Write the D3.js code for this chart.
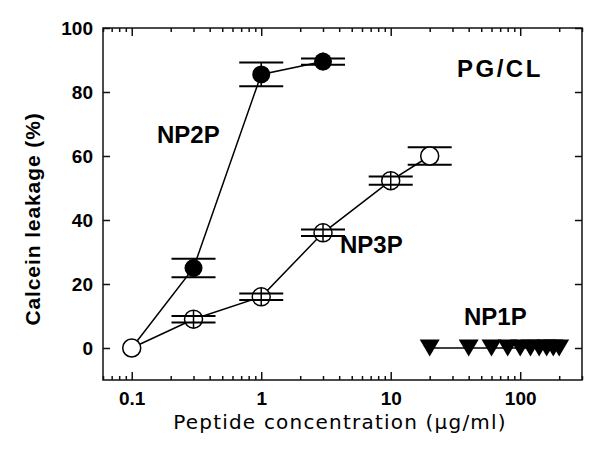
<!DOCTYPE html>
<html>
<head>
<meta charset="utf-8">
<script src="https://cdn.jsdelivr.net/npm/d3@7"></script>
<style>
body { margin: 0; background: #fff; }
</style>
</head>
<body>
<div id="container"></div>
<script>
/* Valeurs */
const xTickValues = [0.1, 1, 10, 100];
const yTickValues = [0, 20, 40, 60, 80, 100];

/* NP2P : cercles pleins */
const concNP2P = [0.1, 0.3, 1, 3];
const leakNP2P = [0, 25, 85.5, 89.5];
const errNP2P = [0, 2.9, 3.7, 1];

/* NP3P : cercles vides */
const concNP3P = [0.1, 0.3, 1, 3, 10, 20];
const leakNP3P = [0, 9, 16, 36, 52.3, 60];
const errNP3P = [0, 1, 1, 1, 1.3, 2.7];

/* NP1P : triangles */
const concNP1P = [20, 40, 60, 80, 100, 120, 140, 160, 180, 200];
const leakNP1P = [0, 0, 0, 0, 0, 0, 0, 0, 0, 0];

const width = 600, height = 460;
const margin = {left: 103, top: 28, right: 18, bottom: 80};
const fontBold = "'Liberation Sans', Arial, sans-serif";
const radius = 9, capHalf = 22;

const svg = d3.select("#container").append("svg")
	.attr("width", width)
	.attr("height", height);

const x = d3.scaleLog()
	.domain([0.06, 300])
	.range([margin.left, width - margin.right]);

const y = d3.scaleLinear()
	.domain([-10, 100])
	.range([height - margin.bottom, margin.top]);

const bottom = height - margin.bottom;
const right = width - margin.right;

/* Graduations secondaires de l'axe log */
const minorTicks = x.ticks().filter(function(d) {
	const l = Math.log10(d);
	return Math.abs(l - Math.round(l)) > 1e-6;
});

function styleAxis(g) {
	g.select(".domain").remove();
	g.selectAll("line").attr("stroke", "#111").attr("stroke-width", 1.5);
	g.selectAll("text")
		.attr("fill", "#000")
		.style("font-family", fontBold)
		.style("font-size", "19px")
		.style("font-weight", "bold");
}

svg.append("g")
	.attr("transform", "translate(0," + bottom + ")")
	.call(d3.axisBottom(x).tickValues(minorTicks).tickSize(-4).tickFormat(""))
	.call(styleAxis);
svg.append("g")
	.attr("transform", "translate(0," + bottom + ")")
	.call(d3.axisBottom(x).tickValues(xTickValues).tickSize(-8).tickPadding(12).tickFormat(function(d){return String(d)}))
	.call(styleAxis);
svg.append("g")
	.attr("transform", "translate(0," + margin.top + ")")
	.call(d3.axisTop(x).tickValues(minorTicks).tickSize(-4).tickFormat(""))
	.call(styleAxis);
svg.append("g")
	.attr("transform", "translate(0," + margin.top + ")")
	.call(d3.axisTop(x).tickValues(xTickValues).tickSize(-8).tickFormat(""))
	.call(styleAxis);
svg.append("g")
	.attr("transform", "translate(" + margin.left + ",0)")
	.call(d3.axisLeft(y).tickValues(yTickValues).tickSize(-7).tickPadding(10))
	.call(styleAxis);
svg.append("g")
	.attr("transform", "translate(" + right + ",0)")
	.call(d3.axisRight(y).tickValues(yTickValues).tickSize(-7).tickFormat(""))
	.call(styleAxis);

/* Cadre */
svg.append("rect")
	.attr("x", margin.left)
	.attr("y", margin.top)
	.attr("width", right - margin.left)
	.attr("height", bottom - margin.top)
	.attr("fill", "none")
	.attr("stroke", "#111")
	.attr("stroke-width", 1.5);

const line = d3.line()
	.x(function(d){return x(d[0])})
	.y(function(d){return y(d[1])});

const np2p = d3.zip(concNP2P, leakNP2P, errNP2P);
const np3p = d3.zip(concNP3P, leakNP3P, errNP3P);
const np1p = d3.zip(concNP1P, leakNP1P);

[np2p, np3p, np1p].forEach(function(data) {
	svg.append("path")
		.datum(data)
		.attr("d", line)
		.attr("fill", "none")
		.attr("stroke", "#000")
		.attr("stroke-width", 1.5);
});

/* Barres d'erreur : tige + deux chapeaux */
function errorBars(data, onTop) {
	const g = svg.append("g").attr("stroke", "#000").attr("stroke-width", 2);
	data.filter(function(d){return d[2] > 0}).forEach(function(d) {
		const cx = x(d[0]), cy = y(d[1]);
		const hi = y(d[1] + d[2]), lo = y(d[1] - d[2]);
		const small = (lo - cy) < radius - 1;
		if (onTop !== small) return;
		const top = small ? cy - radius : hi, bot = small ? cy + radius : lo;
		g.append("line").attr("x1", cx).attr("x2", cx).attr("y1", top).attr("y2", bot).attr("stroke-width", 1.5);
		g.append("line").attr("x1", cx - capHalf).attr("x2", cx + capHalf).attr("y1", hi).attr("y2", hi);
		g.append("line").attr("x1", cx - capHalf).attr("x2", cx + capHalf).attr("y1", lo).attr("y2", lo);
	});
}

errorBars(np2p, false);
errorBars(np3p, false);

svg.append("g").selectAll("circle")
	.data(np2p)
	.enter().append("circle")
		.attr("cx", function(d){return x(d[0])})
		.attr("cy", function(d){return y(d[1])})
		.attr("r", radius)
		.attr("fill", "#000");

svg.append("g").selectAll("circle")
	.data(np3p)
	.enter().append("circle")
		.attr("cx", function(d){return x(d[0])})
		.attr("cy", function(d){return y(d[1])})
		.attr("r", radius)
		.attr("fill", "#fff")
		.attr("stroke", "#000")
		.attr("stroke-width", 1.5);

errorBars(np2p, true);
errorBars(np3p, true);

/* Triangles pointe en bas */
svg.append("g").selectAll("path")
	.data(np1p)
	.enter().append("path")
		.attr("transform", function(d){return "translate(" + x(d[0]) + "," + y(d[1]) + ")"})
		.attr("d", "M-10,-8.5L10,-8.5L0,8.5Z")
		.attr("fill", "#000");

/* Libellés */
const labels = [
	{text: "PG/CL", x: 457, y: 77, spacing: 2.5},
	{text: "NP2P", x: 157, y: 143, spacing: 0},
	{text: "NP3P", x: 340, y: 253, spacing: 0},
	{text: "NP1P", x: 464, y: 325, spacing: 0}
];
svg.selectAll("text.lab")
	.data(labels)
	.enter().append("text")
		.attr("class", "lab")
		.attr("x", function(d){return d.x})
		.attr("y", function(d){return d.y})
		.style("font-family", fontBold)
		.style("font-size", "24px")
		.style("font-weight", "bold")
		.style("letter-spacing", function(d){return d.spacing + "px"})
		.text(function(d){return d.text});

svg.append("text")
	.attr("transform", "translate(40,219) rotate(-90)")
	.attr("text-anchor", "middle")
	.style("font-family", fontBold)
	.style("font-size", "21px")
	.style("font-weight", "bold")
	.style("letter-spacing", "0.9px")
	.text("Calcein leakage (%)");

svg.append("text")
	.attr("x", 340)
	.attr("y", 429)
	.attr("text-anchor", "middle")
	.style("font-family", "'DejaVu Sans', sans-serif")
	.style("font-size", "20px")
	.style("letter-spacing", "1.2px")
	.text("Peptide concentration (\u03bcg/ml)");
</script>
</body>
</html>
